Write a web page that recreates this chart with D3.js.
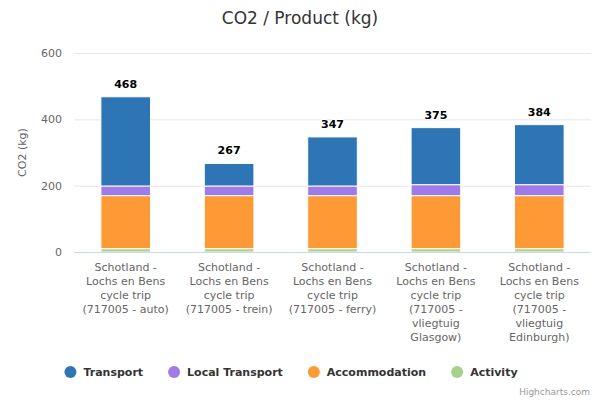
<!DOCTYPE html>
<head>
    <meta charset="utf-8"/>
    <script src="https://d3js.org/d3.v7.min.js"></script>
    <style>
        body { margin: 0; background: #fff; }
        text { font-family: "DejaVu Sans", "Lucida Grande", sans-serif; }
    </style>
</head>
<body>
<script>
    // categories and stacked series (kg CO2)
    var categories = [
        "Schotland - Lochs en Bens cycle trip (717005 - auto)",
        "Schotland - Lochs en Bens cycle trip (717005 - trein)",
        "Schotland - Lochs en Bens cycle trip (717005 - ferry)",
        "Schotland - Lochs en Bens cycle trip (717005 - vliegtuig Glasgow)",
        "Schotland - Lochs en Bens cycle trip (717005 - vliegtuig Edinburgh)"
    ];
    var seriesNames = ["Transport", "Local Transport", "Accommodation", "Activity"];
    var transport = [269, 68, 148, 172, 181];
    var localTransport = [29, 29, 29, 33, 33];
    var accommodation = [160, 160, 160, 160, 160];
    var activity = [10, 10, 10, 10, 10];
    var totals = [468, 267, 347, 375, 384];
    var yTicks = [0, 200, 400, 600];
    var colors = ["#2e75b6", "#a07ae8", "#fd9a35", "#a9d18e"];

    var width = 600, height = 400;
    var margin = {top: 53, right: 9, bottom: 148, left: 74};

    var svg = d3.select("body").append("svg")
        .attr("width", width)
        .attr("height", height);

    var rows = categories.map(function (c, i) {
        return {cat: c, "Transport": transport[i], "Local Transport": localTransport[i],
            "Accommodation": accommodation[i], "Activity": activity[i], total: totals[i]};
    });

    var x = d3.scaleBand().domain(categories)
        .range([margin.left, width - margin.right])
        .paddingInner(0.52).paddingOuter(0.26);
    var y = d3.scaleLinear().domain([0, 600]).range([height - margin.bottom, margin.top]);

    // title
    svg.append("text").attr("x", 300).attr("y", 24)
        .attr("text-anchor", "middle").attr("fill", "#333")
        .style("font-size", "17px").text("CO2 / Product (kg)");

    // grid + y labels
    var yAxis = svg.append("g").attr("transform", "translate(" + margin.left + ",0)")
        .call(d3.axisLeft(y).tickValues(yTicks).tickSize(-(width - margin.left - margin.right)).tickPadding(12));
    yAxis.select(".domain").remove();
    yAxis.selectAll(".tick line").attr("stroke", "#e6e6e6");
    yAxis.selectAll(".tick text").attr("fill", "#666").style("font-size", "11px");

    svg.append("text")
        .attr("transform", "translate(26," + y(300) + ") rotate(-90)")
        .attr("text-anchor", "middle").attr("fill", "#666")
        .style("font-size", "11px").text("CO2 (kg)");

    // stacked bars (stack order: Activity bottom, Transport top)
    var stack = d3.stack().keys(seriesNames.slice().reverse());
    var layers = stack(rows);
    svg.append("g").selectAll("g").data(layers).join("g")
        .attr("fill", function (d) { return colors[seriesNames.indexOf(d.key)]; })
        .selectAll("rect").data(function (d) { return d; }).join("rect")
        .attr("x", function (d) { return x(d.data.cat); })
        .attr("width", x.bandwidth())
        .attr("y", function (d) { return y(d[1]); })
        .attr("height", function (d) { return y(d[0]) - y(d[1]); })
        .attr("stroke", "#fff").attr("stroke-width", 1);

    // x axis line
    svg.append("line")
        .attr("x1", margin.left).attr("x2", width - margin.right)
        .attr("y1", y(0) + 0.5).attr("y2", y(0) + 0.5)
        .attr("stroke", "#ccd6eb");

    // totals
    svg.append("g").selectAll("text").data(rows).join("text")
        .attr("x", function (d) { return x(d.cat) + x.bandwidth() / 2; })
        .attr("y", function (d) { return y(d.total) - 9; })
        .attr("text-anchor", "middle")
        .style("font-size", "11px").style("font-weight", "bold")
        .attr("fill", "#000")
        .attr("stroke", "#fff").attr("stroke-width", 2).attr("paint-order", "stroke")
        .text(function (d) { return d.total; });

    // wrapped category labels
    var labels = svg.append("g").selectAll("text").data(categories).join("text")
        .attr("x", function (d) { return x(d) + x.bandwidth() / 2; })
        .attr("y", y(0) + 19)
        .attr("text-anchor", "middle").attr("fill", "#666")
        .style("font-size", "11px");
    labels.each(function (d) {
        var t = d3.select(this), words = d.split(" "), line = [];
        var cx = t.attr("x");
        var ts = t.append("tspan").attr("x", cx).attr("dy", 0);
        words.forEach(function (w) {
            line.push(w);
            ts.text(line.join(" "));
            if (ts.node().getComputedTextLength() > 92 && line.length > 1) {
                line.pop();
                ts.text(line.join(" "));
                line = [w];
                ts = t.append("tspan").attr("x", cx).attr("dy", "14px").text(w);
            }
        });
    });

    // legend
    var legend = svg.append("g");
    var items = legend.selectAll("g").data(seriesNames).join("g");
    items.append("circle").attr("r", 6).attr("cy", 0).attr("cx", 6)
        .attr("fill", function (d, i) { return colors[i]; });
    items.append("text").attr("x", 19).attr("y", 4)
        .attr("fill", "#333").style("font-size", "11px").style("font-weight", "bold")
        .text(function (d) { return d; });
    var pos = 0;
    items.each(function () {
        var w = this.getBBox().width;
        d3.select(this).attr("transform", "translate(" + pos + ",372)");
        pos += w + 25;
    });
    legend.attr("transform", "translate(" + (291 - (pos - 25) / 2) + ",0)");

    svg.append("text").attr("x", 590).attr("y", 395)
        .attr("text-anchor", "end").attr("fill", "#999")
        .style("font-size", "9px").text("Highcharts.com");
</script>
</body>
